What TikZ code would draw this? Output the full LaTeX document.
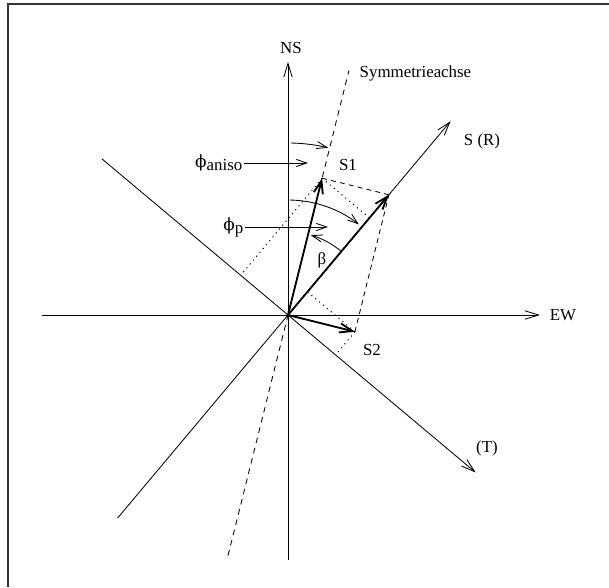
\documentclass[tikz,border=0pt]{standalone}
\usepackage{fontspec}
\setmainfont{Liberation Serif}
\newfontfamily\grkfont{DejaVu Serif}
\usetikzlibrary{arrows.meta,calc}

\begin{document}
\begin{tikzpicture}[
  x=0.025cm, y=0.025cm,
  axis/.style={line width=0.6pt, -{Straight Barb[length=3.4mm,width=2.1mm]}},
  plain/.style={line width=0.6pt},
  vec/.style={line width=1.3pt, -{Straight Barb[length=3.2mm,width=2.3mm]}},
  symax/.style={line width=0.6pt, dash pattern=on 4pt off 3.5pt},
  para/.style={line width=0.6pt, dash pattern=on 3.5pt off 3pt},
  proj/.style={line width=0.7pt, dash pattern=on 0.8pt off 2.8pt},
  ang/.style={line width=0.6pt, -{Straight Barb[length=2.6mm,width=1.8mm]}},
  frame/.style={line width=0.8pt, black!80},
  lab/.style={font=\fontsize{12}{14}\selectfont, inner sep=1pt}
]
  \useasboundingbox (-288,-272) rectangle (321,315);

  % frame (top and left edge only)
  \coordinate (fr-bl) at (-280,-272);
  \coordinate (fr-tl) at (-280,311);
  \coordinate (fr-tr) at (321,311);
  \draw[frame] (fr-bl) -- (fr-tl) -- (fr-tr);

  % axes
  \coordinate (O)     at (0,0);
  \coordinate (ns-s)  at (0,-245);
  \coordinate (ns-n)  at (0,253);
  \coordinate (ew-w)  at (-246,0);
  \coordinate (ew-e)  at (252,0);
  \coordinate (sym-s) at (256:248);
  \coordinate (sym-n) at (76:252);
  \coordinate (r-s)   at (230:265);
  \coordinate (r-n)   at (50:253);
  \coordinate (t-n)   at (140:243);
  \coordinate (t-s)   at (-40:245);

  \draw[axis]  (ns-s) -- (ns-n);
  \draw[axis]  (ew-w) -- (ew-e);
  \draw[axis]  (r-s) -- (r-n);
  \draw[axis]  (t-n) -- (t-s);
  \draw[symax] (sym-s) -- (sym-n);

  % vectors S = S1 + S2
  \coordinate (s1) at (76:141);
  \coordinate (s2) at (-14:69);
  \coordinate (s)  at (50:157);

  % projections on R and T
  \coordinate (s1r) at (50:126.7);
  \coordinate (s1t) at (140:61.8);
  \coordinate (s2r) at (50:30.2);
  \coordinate (s2t) at (-40:62);

  \draw[para] (s1) -- (s);
  \draw[para] (s2) -- (s);
  \draw[proj] (s1) -- (s1r);
  \draw[proj] (s1) -- (s1t);
  \draw[proj] (s2) -- (s2r);
  \draw[proj] (s2) -- (s2t);

  \draw[vec] (O) -- (s1);
  \draw[vec] (O) -- (s2);
  \draw[vec] (O) -- (s);

  % angles
  \coordinate (aniso-a) at (89:172);
  \coordinate (p-a)     at (89:115);
  \coordinate (b-a)     at (50.5:83);
  \draw[ang] (aniso-a) arc[start angle=89, end angle=76.5, radius=4.3cm];
  \draw[ang] (p-a) arc[start angle=89, end angle=52, radius=2.875cm];
  \draw[ang] (b-a) arc[start angle=50.5, end angle=74, radius=2.075cm];

  % labels
  \node[lab] (nsl)  at (3,267)   {NS};
  \node[lab] (ewl)  at (275,0)   {EW};
  \node[lab, anchor=west] (syml) at (70,242) {Symmetrieachse};
  \node[lab] (rl)   at (194,174) {S (R)};
  \node[lab] (tl)   at (199,-133) {(T)};
  \node[lab] (s1l)  at (60,150)  {S1};
  \node[lab] (s2l)  at (84,-35)  {S2};
  \node[lab] (bl)   at (34,55)   {β};

  \node[lab, anchor=east] (anisol) at (-44,152) {{\grkfont ϕ}\raisebox{-0.4ex}{aniso}};
  \node[lab, anchor=east] (pl)     at (-43,88)  {{\grkfont ϕ}\raisebox{-0.4ex}{p}};
  \coordinate (aniso-e) at (20,152);
  \coordinate (p-e)     at (40,88);
  \draw[ang] (anisol.east) -- (anisol.east -| aniso-e);
  \draw[ang] (pl.east) -- (pl.east -| p-e);
\end{tikzpicture}
\end{document}
